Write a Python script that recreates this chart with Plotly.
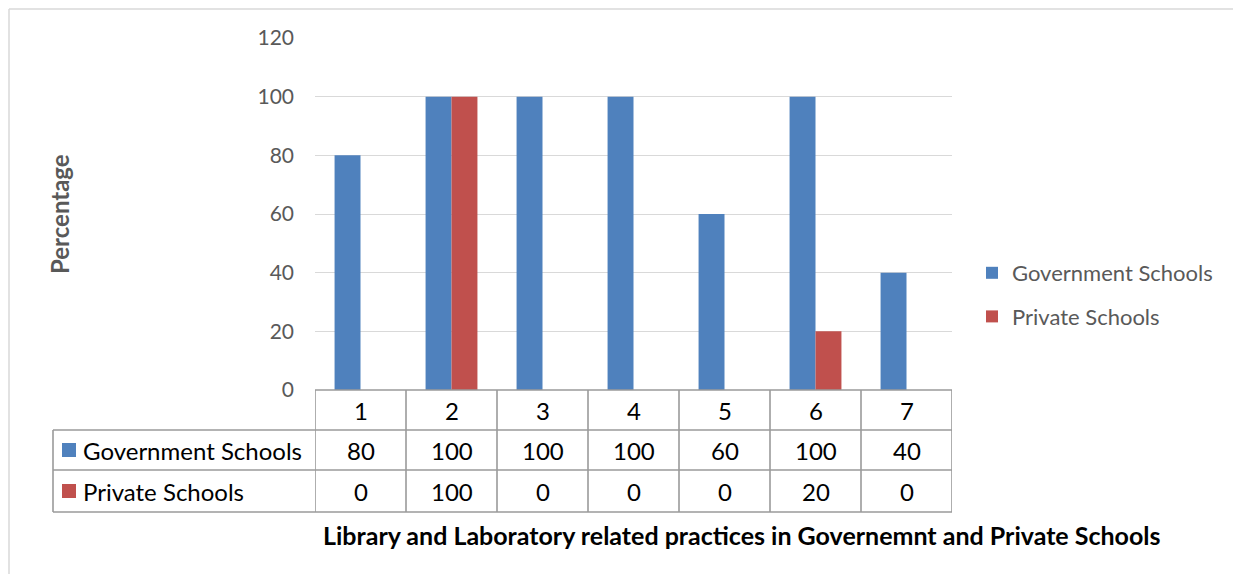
import plotly.graph_objects as go

categories = ["1", "2", "3", "4", "5", "6", "7"]
gov_values = [80, 100, 100, 100, 60, 100, 40]
priv_values = [0, 100, 0, 0, 0, 20, 0]
series_names = ["Government Schools", "Private Schools"]
y_title = "Percentage"
x_title = "Library and Laboratory related practices in Governemnt and Private Schools"

OFF = 8  # page body margin
W, H = 1241 - OFF, 574 - OFF
BLUE = "#4F81BD"
RED = "#C0504D"
GRID = "#D9D9D9"
TBL = "#9A9A9A"
FONT = "Lato"


def fx(px):
    return (px - OFF) / W


def fy(py):
    return 1 - (py - OFF) / H


fig = go.Figure()
fig.add_trace(go.Bar(x=categories, y=gov_values, name=series_names[0],
                     marker=dict(color=BLUE, line=dict(width=0)), legendgroup="g"))
fig.add_trace(go.Bar(x=categories, y=priv_values, name=series_names[1],
                     marker=dict(color=RED, line=dict(width=0)), legendgroup="p"))

plot_l, plot_r, plot_t, plot_b = 315, 952, 38, 390
row1_b, row2_b, row3_b = 430, 470, 512
tbl_l = 53

shapes = []
line = dict(color=TBL, width=1.6)
n = len(categories)
shapes.append(dict(type="line", xref="x", yref="paper", x0=-0.5, x1=n - 0.5,
                   y0=fy(plot_b), y1=fy(plot_b), line=line))
for yy in (row1_b, row2_b, row3_b):
    shapes.append(dict(type="line", xref="paper", yref="paper", x0=fx(tbl_l), x1=fx(plot_r),
                       y0=fy(yy), y1=fy(yy), line=line))
for i in range(n + 1):
    shapes.append(dict(type="line", xref="x", yref="paper", x0=i - 0.5, x1=i - 0.5,
                       y0=fy(plot_b), y1=fy(row3_b), line=line))
shapes.append(dict(type="line", xref="paper", yref="paper", x0=fx(tbl_l), x1=fx(tbl_l),
                   y0=fy(row1_b), y1=fy(row3_b), line=line))
for (yc, col) in ((450, BLUE), (491, RED)):
    shapes.append(dict(type="rect", xref="paper", yref="paper", x0=fx(62), x1=fx(76),
                       y0=fy(yc + 7), y1=fy(yc - 7), fillcolor=col, line=dict(width=0)))
shapes.append(dict(type="line", xref="paper", yref="paper", x0=fx(9), x1=1, y0=fy(9), y1=fy(9),
                   line=dict(color="#D9D9D9", width=1.5)))
shapes.append(dict(type="line", xref="paper", yref="paper", x0=fx(9), x1=fx(9), y0=fy(9), y1=0,
                   line=dict(color="#D9D9D9", width=1.5)))

annotations = []
cell_font = dict(family=FONT, size=24, color="#000000")
for i, c in enumerate(categories):
    annotations.append(dict(x=i, y=fy(410), xref="x", yref="paper", text=c, showarrow=False,
                            font=cell_font, xanchor="center", yanchor="middle"))
    annotations.append(dict(x=i, y=fy(450), xref="x", yref="paper", text=str(gov_values[i]),
                            showarrow=False, font=cell_font, xanchor="center", yanchor="middle"))
    annotations.append(dict(x=i, y=fy(491), xref="x", yref="paper", text=str(priv_values[i]),
                            showarrow=False, font=cell_font, xanchor="center", yanchor="middle"))
annotations.append(dict(x=fx(81), y=fy(450), xref="paper", yref="paper", text=series_names[0],
                        showarrow=False, font=cell_font, xanchor="left", yanchor="middle"))
annotations.append(dict(x=fx(81), y=fy(491), xref="paper", yref="paper", text=series_names[1],
                        showarrow=False, font=cell_font, xanchor="left", yanchor="middle"))
annotations.append(dict(x=fx(742), y=fy(535), xref="paper", yref="paper", text="<b>" + x_title + "</b>",
                        showarrow=False, font=dict(family=FONT, size=25, color="#000000"),
                        xanchor="center", yanchor="middle"))
annotations.append(dict(x=fx(60), y=fy(214), xref="paper", yref="paper", text="<b>" + y_title + "</b>",
                        showarrow=False, textangle=-90, font=dict(family=FONT, size=24, color="#595959"),
                        xanchor="center", yanchor="middle"))

fig.update_layout(
    width=W, height=H,
    autosize=False,
    margin=dict(l=0, r=0, t=0, b=0, pad=0, autoexpand=False),
    paper_bgcolor="white", plot_bgcolor="white",
    barmode="group", bargap=0.43, bargroupgap=0,
    font=dict(family=FONT, color="#595959"),
    xaxis=dict(domain=[fx(plot_l), fx(plot_r)], showticklabels=False, showgrid=False,
               zeroline=False, showline=False, ticks="", range=[-0.5, n - 0.5], automargin=False),
    yaxis=dict(domain=[fy(plot_b), fy(plot_t)], range=[0, 120], dtick=20, showgrid=True,
               gridcolor=GRID, gridwidth=1.3, zeroline=False, showline=False, ticks="",
               tickfont=dict(family=FONT, size=21, color="#595959"), ticklabelstandoff=20,
               automargin=False),
    legend=dict(x=fx(972), y=fy(252), xanchor="left", yanchor="top",
                font=dict(family=FONT, size=22, color="#595959"), tracegroupgap=12,
                bgcolor="rgba(0,0,0,0)"),
    shapes=shapes,
    annotations=annotations,
)

fig.write_html("out.html")
